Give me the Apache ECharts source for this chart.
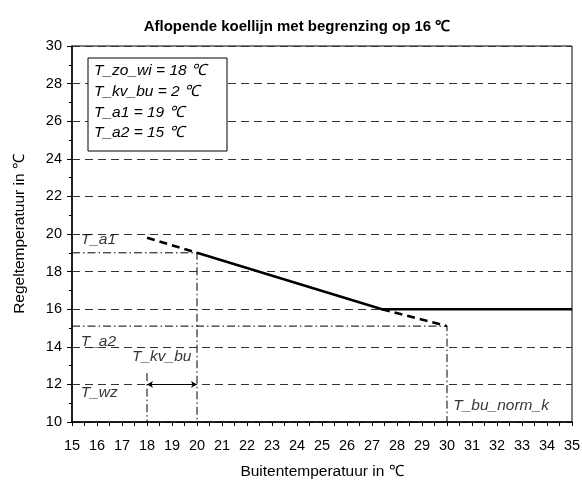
<!DOCTYPE html>
<html>
<head>
<meta charset="utf-8">
<script src="https://cdn.jsdelivr.net/npm/echarts@6/dist/echarts.min.js"></script>
<style>html,body{margin:0;padding:0;background:#fff}#c{width:582px;height:482px}</style>
</head>
<body>
<div id="c"></div>
<script>
const titleText = 'Aflopende koellijn met begrenzing op 16 ℃';
const xName = 'Buitentemperatuur in ℃';
const yName = 'Regeltemperatuur in ℃';
const xMin = 15, xMax = 35, xStep = 1;
const yMin = 10, yMax = 30, yStep = 2;

// regulation curve (solid)
const curveSolid = [[20, 19], [27.4, 16], [35, 16]];
// dashed extensions
const curveDashUpper = [[18, 19.8], [20, 19]];
const curveDashLower = [[27.4, 16], [30, 15.1]];
// dash-dot helper lines
const helperA1 = [[15, 19], [20, 19], [20, 10]];
const helperA2 = [[15, 15.1], [30, 15.1], [30, 10]];
const helperWz = [[18, 12.6], [18, 10]];
// arrow T_kv_bu
const arrowFrom = [18, 12];
const arrowTo = [20, 12];

// annotation labels
const annText = ['T_a1', 'T_a2', 'T_kv_bu', 'T_wz', 'T_bu_norm_k'];
const annX = [15.35, 15.35, 17.4, 15.35, 30.25];
const annY = [19.7, 14.27, 13.45, 11.55, 10.85];

// info box lines
const infoLines = ['T_zo_wi = 18 ℃', 'T_kv_bu = 2 ℃', 'T_a1 = 19 ℃', 'T_a2 = 15 ℃'];

const font = 'Liberation Sans, Arial, sans-serif';
const chart = echarts.init(document.getElementById('c'), null, {renderer: 'canvas'});

const dashDot = {color: '#000', width: 1, type: [8, 3, 1.5, 3]};

const infoGraphics = [{
  type: 'rect', shape: {x: 88, y: 58, width: 139, height: 93},
  style: {fill: '#fff', stroke: '#000', lineWidth: 1}, z: 100
}];
infoLines.forEach((t, i) => {
  infoGraphics.push({
    type: 'text', x: 94, y: 71 + i * 20.6, z: 101,
    style: {text: t, font: 'italic 15.5px ' + font, fill: '#000', verticalAlign: 'middle', align: 'left'}
  });
});

const option = {
  animation: false,
  backgroundColor: '#fff',
  title: {
    text: titleText, left: 292, top: 14, textAlign: 'center',
    textStyle: {fontFamily: font, fontSize: 15, fontWeight: 'bold', color: '#000'}
  },
  grid: {left: 72, right: 10, top: 46, bottom: 60, containLabel: false, outerBoundsMode: 'none',
         show: true, borderColor: '#000', borderWidth: 1, backgroundColor: 'transparent'},
  xAxis: {
    type: 'value', min: xMin, max: xMax, interval: xStep,
    name: xName, nameLocation: 'middle', nameGap: 42,
    nameTextStyle: {fontFamily: font, fontSize: 15.5, color: '#000'},
    axisLine: {onZero: false, lineStyle: {color: '#000', width: 1.5}},
    axisTick: {show: true, length: 4, lineStyle: {color: '#000'}},
    minorTick: {show: true, splitNumber: 2, length: 4, lineStyle: {color: '#000'}},
    splitLine: {show: false},
    axisLabel: {fontFamily: font, fontSize: 14.5, color: '#000', margin: 16}
  },
  yAxis: {
    type: 'value', min: yMin, max: yMax, interval: yStep,
    name: yName, nameLocation: 'middle', nameGap: 44, nameRotate: 90,
    nameTextStyle: {fontFamily: font, fontSize: 15.5, color: '#000'},
    axisLine: {onZero: false, lineStyle: {color: '#000', width: 1.5}},
    axisTick: {show: true, length: 5, lineStyle: {color: '#000'}},
    minorTick: {show: true, splitNumber: 2, length: 3, lineStyle: {color: '#000'}},
    splitLine: {show: true, lineStyle: {color: '#333', width: 1, type: [8, 5]}},
    axisLabel: {fontFamily: font, fontSize: 14.5, color: '#000', margin: 10}
  },
  graphic: infoGraphics,
  series: [
    {type: 'line', data: helperA1, symbol: 'none', lineStyle: dashDot, z: 2},
    {type: 'line', data: helperA2, symbol: 'none', lineStyle: dashDot, z: 2},
    {type: 'line', data: helperWz, symbol: 'none', lineStyle: dashDot, z: 2},
    {type: 'line', data: curveDashUpper, symbol: 'none', lineStyle: {color: '#000', width: 2.5, type: [8, 5]}, z: 3},
    {type: 'line', data: curveDashLower, symbol: 'none', lineStyle: {color: '#000', width: 2.5, type: [8, 5]}, z: 3},
    {type: 'line', data: curveSolid, symbol: 'none', lineStyle: {color: '#000', width: 2.5}, z: 4,
     markLine: {
       silent: true, symbol: ['arrow', 'arrow'], symbolSize: [5, 6],
       label: {show: false},
       lineStyle: {color: '#000', width: 1, type: 'solid'},
       data: [[{coord: arrowFrom}, {coord: arrowTo}]]
     }},
    {type: 'scatter', symbolSize: 0, z: 5,
     data: annText.map((t, i) => ({value: [annX[i], annY[i]], name: t})),
     label: {show: true, position: 'right', distance: 0, formatter: p => p.name,
             fontFamily: font, fontSize: 15.5, fontStyle: 'italic', color: '#000'}}
  ]
};
chart.setOption(option);
</script>
</body>
</html>
